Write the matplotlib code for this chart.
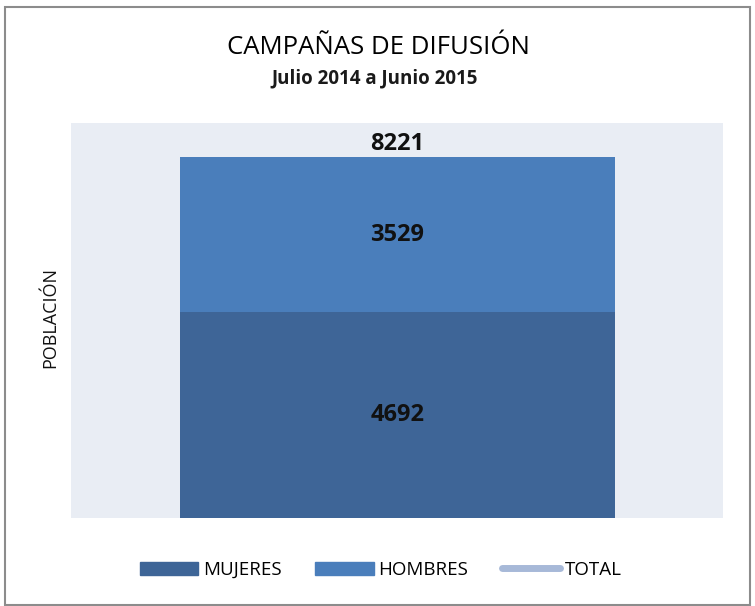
import matplotlib.pyplot as plt
from matplotlib.patches import Rectangle
from matplotlib.lines import Line2D

plt.rcParams['font.family'] = ['Open Sans', 'DejaVu Sans']

categorias = ['']
mujeres = [4692]
hombres = [3529]
total = [8221]

fig = plt.figure(figsize=(7.55, 6.06), dpi=100)
ax = fig.add_axes([71/755, 1-518/606, 652/755, 395/606])
ax.set_facecolor('#E9EDF4')

b1 = ax.bar(categorias, mujeres, width=0.6, color='#3E6597', label='MUJERES')
b2 = ax.bar(categorias, hombres, width=0.6, bottom=mujeres, color='#4A7EBB', label='HOMBRES')
ln, = ax.plot(categorias, total, color='#A7B9D8', lw=5, solid_capstyle='round', label='TOTAL')

ax.set_xlim(-0.4504, 0.4489)
ax.set_ylim(0, 9000)
ax.set_xticks([])
ax.set_yticks([])
for s in ax.spines.values():
    s.set_visible(False)

ax.bar_label(b1, label_type='center', fontsize=17, fontweight='bold', color='#111111')
ax.bar_label(b2, label_type='center', fontsize=17, fontweight='bold', color='#111111')
ax.annotate(str(total[0]), (0, total[0]), xytext=(0, 1), textcoords='offset points',
            ha='center', va='bottom', fontsize=17, fontweight='bold', color='#111111')

fig.text(378/755, 1-47/606, 'CAMPAÑAS DE DIFUSIÓN', ha='center', va='center', fontsize=18.5, color='#000000')
fig.text(375/755, 1-78/606, 'Julio 2014 a Junio 2015', ha='center', va='center', fontsize=13.5,
         fontweight='bold', color='#1a1a1a')
fig.text(50/755, 1-318/606, 'POBLACIÓN', ha='center', va='center', rotation=90, fontsize=13, color='#111111')

handles = [Rectangle((0, 0), 1, 1, color='#3E6597'),
           Rectangle((0, 0), 1, 1, color='#4A7EBB'),
           Line2D([], [], color='#A7B9D8', lw=5, solid_capstyle='round')]
fig.legend(handles, ['MUJERES', 'HOMBRES', 'TOTAL'], loc='center', bbox_to_anchor=(381/755, 1-570/606),
           ncol=3, frameon=False, fontsize=13.5, handlelength=3.1, handleheight=0.75,
           handletextpad=0.25, columnspacing=1.8)

fig.add_artist(Rectangle((5/755, 1/606), 745/755, 598/606, transform=fig.transFigure,
                         fill=False, edgecolor='#8C8C8C', lw=1.5))

fig.savefig('out.png', dpi=100)
